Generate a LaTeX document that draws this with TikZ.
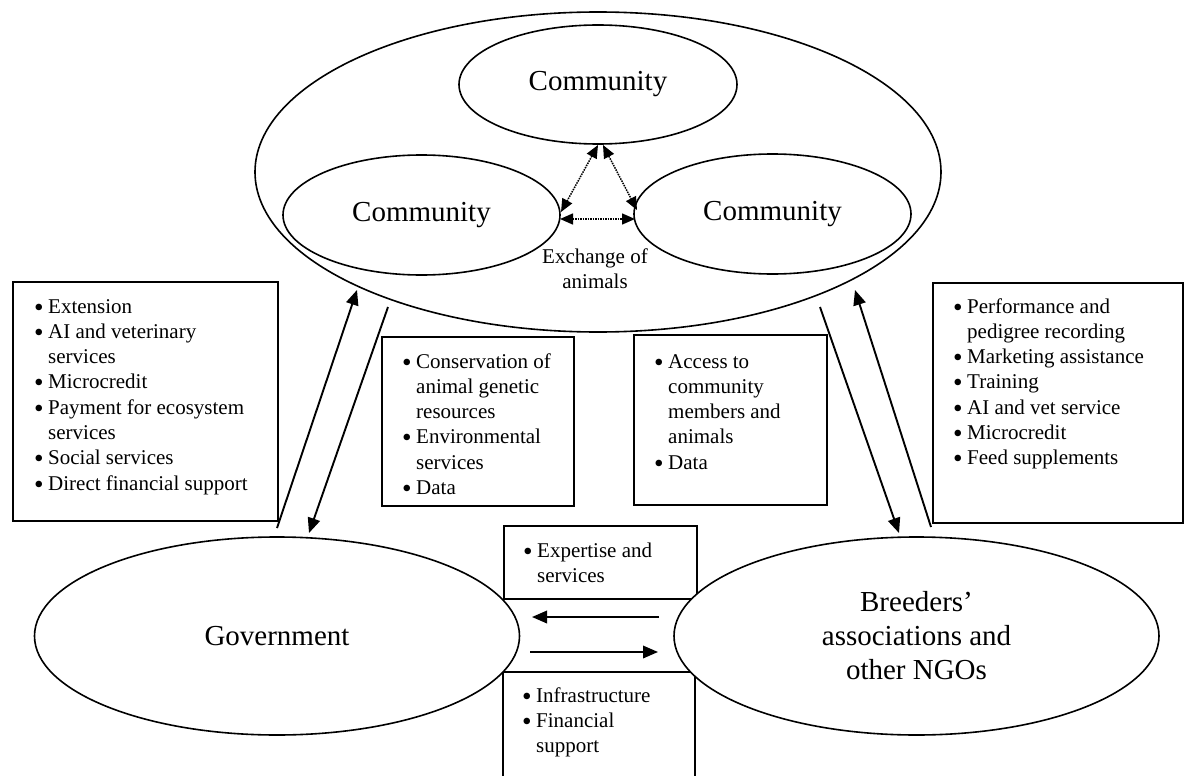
\documentclass[tikz,border=0pt]{standalone}
\usepackage{fontspec}
\setmainfont{Liberation Serif}
\usetikzlibrary{shapes.geometric,arrows.meta}
\newcommand\bul{\makebox[14pt][l]{\raisebox{-3pt}[0pt][0pt]{\scalebox{1.3}{\textbullet}}}}
\newcommand\ind{\hspace*{14pt}}
\tikzset{
  ell/.style={draw, ellipse, line width=1.6pt, inner sep=0pt, fill=white},
  bx/.style={draw, rectangle, line width=1.7pt, inner sep=0pt, anchor=north west},
  lst/.style={anchor=base west, inner sep=0pt, font=\fontsize{21}{25.3}\selectfont},
  big/.style={font=\fontsize{29}{34}\selectfont, align=center},
  arr/.style={line width=1.9pt, -{Triangle[length=15pt,width=12.5pt]}},
  darr/.style={line width=1.5pt, densely dotted, {Triangle[length=13pt,width=11pt]}-{Triangle[length=13pt,width=11pt]}},
}
\begin{document}
\begin{tikzpicture}[x=1pt,y=-1pt]
\useasboundingbox (0,0) rectangle (1184,776);
\clip (0,0) rectangle (1184,776);
\fill[white] (0,0) rectangle (1184,776);

% boxes
\node[bx, minimum width=265pt, minimum height=239pt] (lbox) at (12,281) {};
\node[bx, minimum width=192pt, minimum height=169pt] (cbox) at (381,336) {};
\node[bx, minimum width=193pt, minimum height=170pt] (abox) at (633,334) {};
\node[bx, minimum width=250pt, minimum height=240pt] (rbox) at (932,282) {};
\node[bx, minimum width=193pt, minimum height=73pt] (ebox) at (503,525) {};
\node[bx, minimum width=192pt, minimum height=160pt] (ibox) at (502,671) {};

% box texts
\node[lst] (ltext) at (34,313) {\begin{tabular}[t]{@{}l@{}}
\bul Extension\\
\bul AI and veterinary\\
\ind services\\
\bul Microcredit\\
\bul Payment for ecosystem\\
\ind services\\
\bul Social services\\
\bul Direct financial support
\end{tabular}};
\node[lst] (ctext) at (402,368) {\begin{tabular}[t]{@{}l@{}}
\bul Conservation of\\
\ind animal genetic\\
\ind resources\\
\bul Environmental\\
\ind services\\
\bul Data
\end{tabular}};
\node[lst] (atext) at (654,368) {\begin{tabular}[t]{@{}l@{}}
\bul Access to\\
\ind community\\
\ind members and\\
\ind animals\\
\bul Data
\end{tabular}};
\node[lst] (rtext) at (953,313) {\begin{tabular}[t]{@{}l@{}}
\bul Performance and\\
\ind pedigree recording\\
\bul Marketing assistance\\
\bul Training\\
\bul AI and vet service\\
\bul Microcredit\\
\bul Feed supplements
\end{tabular}};
\node[lst] (etext) at (523,557) {\begin{tabular}[t]{@{}l@{}}
\bul Expertise and\\
\ind services
\end{tabular}};
\node[lst] (itext) at (522,702) {\begin{tabular}[t]{@{}l@{}}
\bul Infrastructure\\
\bul Financial\\
\ind support
\end{tabular}};

% ellipses
\node[ell, minimum width=686pt, minimum height=320pt] (world) at (598,172) {};
\node[ell, big, minimum width=278pt, minimum height=119pt] (ctop) at (598,84.5) {Community};
\node[ell, big, minimum width=277pt, minimum height=120pt] (cleft) at (421.5,215) {Community};
\node[ell, big, minimum width=277pt, minimum height=120pt] (cright) at (772.5,214) {Community};
\node[ell, big, minimum width=485pt, minimum height=198pt] (gov) at (277,636) {Government};
\node[ell, big, minimum width=485pt, minimum height=198pt] (breed) at (916.5,636) {Breeders'\\associations and\\other NGOs};

\node[lst, anchor=base, font=\fontsize{21}{25}\selectfont] (exch) at (595,263) {\begin{tabular}[t]{@{}c@{}}Exchange of\\animals\end{tabular}};

% arrow end points
\coordinate (a0) at (277,528);
\coordinate (a1) at (357,290);
\coordinate (b0) at (388,307);
\coordinate (b1) at (309,533);
\coordinate (c0) at (820,307);
\coordinate (c1) at (899,533);
\coordinate (d0) at (931,527);
\coordinate (d1) at (855,290);
\coordinate (h10) at (659,617);
\coordinate (h11) at (532,617);
\coordinate (h20) at (530,652);
\coordinate (h21) at (658,652);
\coordinate (tl) at (598,145);
\coordinate (tr) at (603,145);
\coordinate (lr) at (561,212);
\coordinate (rl) at (637,210);
\coordinate (ml) at (560,219);
\coordinate (mr) at (635,219);

\draw[arr] (a0) -- (a1);
\draw[arr] (b0) -- (b1);
\draw[arr] (c0) -- (c1);
\draw[arr] (d0) -- (d1);
\draw[arr] (h10) -- (h11);
\draw[arr] (h20) -- (h21);
\draw[darr] (tl) -- (lr);
\draw[darr] (tr) -- (rl);
\draw[darr] (ml) -- (mr);
\end{tikzpicture}
\end{document}
